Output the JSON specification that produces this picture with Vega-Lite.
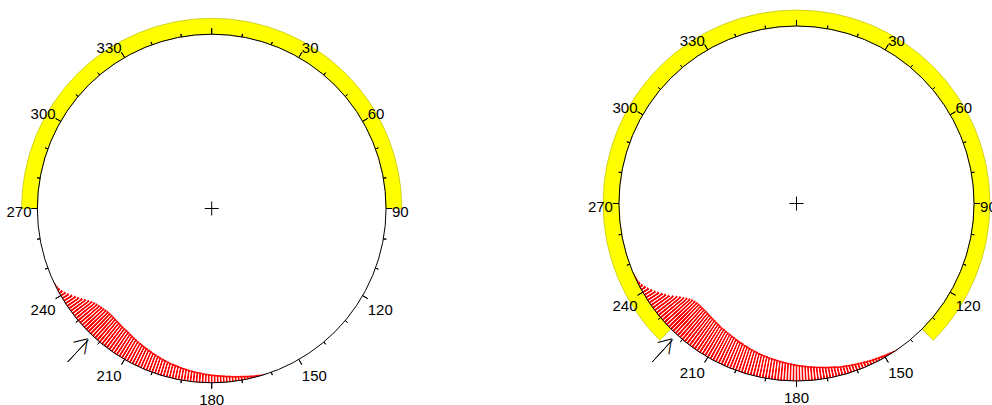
{
"$schema":"https://vega.github.io/schema/vega-lite/v6.json",
"width":992,"height":405,"autosize":"none","padding":0,
"config":{"view":{"stroke":null},"font":"Liberation Sans"},
"datasets":{
"bandL":[{"a0":-90,"a1":90,"r0":1,"r1":1.091}],
"bandR":[{"a0":-135,"a1":135,"r0":1,"r1":1.09}],
"majorTicks":[{"a":0},{"a":30},{"a":60},{"a":90},{"a":120},{"a":150},{"a":180},{"a":210},{"a":240},{"a":270},{"a":300},{"a":330}],
"minorTicks":[{"a":10},{"a":20},{"a":40},{"a":50},{"a":70},{"a":80},{"a":100},{"a":110},{"a":130},{"a":140},{"a":160},{"a":170},{"a":190},{"a":200},{"a":220},{"a":230},{"a":250},{"a":260},{"a":280},{"a":290},{"a":310},{"a":320},{"a":340},{"a":350}],
"labels":[{"a":30,"t":"30"},{"a":60,"t":"60"},{"a":90,"t":"90"},{"a":120,"t":"120"},{"a":150,"t":"150"},{"a":180,"t":"180"},{"a":210,"t":"210"},{"a":240,"t":"240"},{"a":270,"t":"270"},{"a":300,"t":"300"},{"a":330,"t":"330"}],
"arrowL":[{"a":223.2,"r0":1.034,"r1":1.207}],
"arrowR":[{"a":222.3,"r0":1.038,"r1":1.208}],
"headL1":[{"a":224.46,"r":1.0706}],
"headL2":[{"a":221.94,"r":1.0706}],
"headR1":[{"a":223.53,"r":1.074}],
"headR2":[{"a":221.07,"r":1.074}],
"hatchL":[{"a":161,"r":0.999},{"a":162,"r":0.997},{"a":163,"r":0.995},{"a":164,"r":0.992},{"a":165,"r":0.989},{"a":166,"r":0.986},{"a":167,"r":0.984},{"a":168,"r":0.981},{"a":169,"r":0.978},{"a":170,"r":0.975},{"a":171,"r":0.973},{"a":172,"r":0.970},{"a":173,"r":0.968},{"a":174,"r":0.965},{"a":175,"r":0.963},{"a":176,"r":0.960},{"a":177,"r":0.958},{"a":178,"r":0.956},{"a":179,"r":0.954},{"a":180,"r":0.952},{"a":181,"r":0.950},{"a":182,"r":0.948},{"a":183,"r":0.946},{"a":184,"r":0.943},{"a":185,"r":0.941},{"a":186,"r":0.939},{"a":187,"r":0.936},{"a":188,"r":0.934},{"a":189,"r":0.931},{"a":190,"r":0.929},{"a":191,"r":0.926},{"a":192,"r":0.923},{"a":193,"r":0.921},{"a":194,"r":0.918},{"a":195,"r":0.915},{"a":196,"r":0.912},{"a":197,"r":0.909},{"a":198,"r":0.906},{"a":199,"r":0.903},{"a":200,"r":0.899},{"a":201,"r":0.896},{"a":202,"r":0.893},{"a":203,"r":0.889},{"a":204,"r":0.886},{"a":205,"r":0.883},{"a":206,"r":0.880},{"a":207,"r":0.876},{"a":208,"r":0.873},{"a":209,"r":0.870},{"a":210,"r":0.866},{"a":211,"r":0.863},{"a":212,"r":0.860},{"a":213,"r":0.857},{"a":214,"r":0.854},{"a":215,"r":0.851},{"a":216,"r":0.849},{"a":217,"r":0.847},{"a":218,"r":0.845},{"a":219,"r":0.843},{"a":220,"r":0.841},{"a":221,"r":0.839},{"a":222,"r":0.838},{"a":223,"r":0.837},{"a":224,"r":0.837},{"a":225,"r":0.838},{"a":226,"r":0.840},{"a":227,"r":0.843},{"a":228,"r":0.847},{"a":229,"r":0.851},{"a":230,"r":0.856},{"a":231,"r":0.862},{"a":232,"r":0.870},{"a":233,"r":0.880},{"a":234,"r":0.892},{"a":235,"r":0.905},{"a":236,"r":0.918},{"a":237,"r":0.930},{"a":238,"r":0.943},{"a":239,"r":0.956},{"a":240,"r":0.968},{"a":241,"r":0.978},{"a":242,"r":0.986},{"a":243,"r":0.991},{"a":244,"r":0.995},{"a":245,"r":0.998},{"a":246,"r":1.000}],
"hatchR":[{"a":144,"r":1.000},{"a":145,"r":0.998},{"a":146,"r":0.996},{"a":147,"r":0.993},{"a":148,"r":0.991},{"a":149,"r":0.988},{"a":150,"r":0.986},{"a":151,"r":0.983},{"a":152,"r":0.981},{"a":153,"r":0.978},{"a":154,"r":0.976},{"a":155,"r":0.973},{"a":156,"r":0.971},{"a":157,"r":0.968},{"a":158,"r":0.966},{"a":159,"r":0.963},{"a":160,"r":0.961},{"a":161,"r":0.958},{"a":162,"r":0.956},{"a":163,"r":0.953},{"a":164,"r":0.951},{"a":165,"r":0.948},{"a":166,"r":0.945},{"a":167,"r":0.942},{"a":168,"r":0.939},{"a":169,"r":0.937},{"a":170,"r":0.934},{"a":171,"r":0.931},{"a":172,"r":0.928},{"a":173,"r":0.926},{"a":174,"r":0.923},{"a":175,"r":0.920},{"a":176,"r":0.918},{"a":177,"r":0.915},{"a":178,"r":0.912},{"a":179,"r":0.910},{"a":180,"r":0.907},{"a":181,"r":0.904},{"a":182,"r":0.901},{"a":183,"r":0.899},{"a":184,"r":0.896},{"a":185,"r":0.893},{"a":186,"r":0.890},{"a":187,"r":0.887},{"a":188,"r":0.885},{"a":189,"r":0.882},{"a":190,"r":0.879},{"a":191,"r":0.876},{"a":192,"r":0.874},{"a":193,"r":0.871},{"a":194,"r":0.868},{"a":195,"r":0.864},{"a":196,"r":0.861},{"a":197,"r":0.858},{"a":198,"r":0.854},{"a":199,"r":0.851},{"a":200,"r":0.848},{"a":201,"r":0.844},{"a":202,"r":0.841},{"a":203,"r":0.838},{"a":204,"r":0.834},{"a":205,"r":0.831},{"a":206,"r":0.828},{"a":207,"r":0.825},{"a":208,"r":0.822},{"a":209,"r":0.819},{"a":210,"r":0.816},{"a":211,"r":0.814},{"a":212,"r":0.811},{"a":213,"r":0.808},{"a":214,"r":0.805},{"a":215,"r":0.802},{"a":216,"r":0.800},{"a":217,"r":0.797},{"a":218,"r":0.795},{"a":219,"r":0.793},{"a":220,"r":0.791},{"a":221,"r":0.790},{"a":222,"r":0.789},{"a":223,"r":0.789},{"a":224,"r":0.789},{"a":225,"r":0.790},{"a":226,"r":0.793},{"a":227,"r":0.798},{"a":228,"r":0.806},{"a":229,"r":0.815},{"a":230,"r":0.826},{"a":231,"r":0.838},{"a":232,"r":0.852},{"a":233,"r":0.868},{"a":234,"r":0.884},{"a":235,"r":0.897},{"a":236,"r":0.910},{"a":237,"r":0.923},{"a":238,"r":0.936},{"a":239,"r":0.949},{"a":240,"r":0.961},{"a":241,"r":0.971},{"a":242,"r":0.980},{"a":243,"r":0.988},{"a":244,"r":0.992},{"a":245,"r":0.994},{"a":246,"r":0.996},{"a":247,"r":0.998},{"a":248,"r":1.000}]
},
"resolve":{"scale":{"radius":"independent"}},
"layer":[
{"layer":[
 {"data":{"name":"bandL"},"mark":{"type":"arc","fill":"#ffff00","stroke":"#b4b400","strokeWidth":0.6},
  "encoding":{"x":{"datum":"L","type":"nominal","axis":null,"scale":{"type":"point","domain":["L","R"],"range":[211.7,796.5],"padding":0}},"y":{"datum":"L","type":"nominal","axis":null,"scale":{"type":"point","domain":["L","R"],"range":[208.5,203.5],"padding":0}},
   "theta":{"field":"a0","type":"quantitative","stack":null,"scale":{"type":"linear","domain":[0,360],"range":[0,6.283185307179586],"nice":false,"zero":false}},"theta2":{"field":"a1"},
   "radius":{"field":"r1","type":"quantitative","scale":{"type":"linear","domain":[0,1],"range":[0,174.3],"nice":false,"zero":false}},"radius2":{"field":"r0"}}},
 {"data":{"name":"hatchL"},"mark":{"type":"arc","fill":"#ff0000","thetaOffset":-0.0087,"theta2Offset":0.0096},
  "encoding":{"x":{"datum":"L","type":"nominal","axis":null},"y":{"datum":"L","type":"nominal","axis":null},
   "theta":{"field":"a","type":"quantitative","stack":null},"theta2":{"field":"a"},
   "radius":{"field":"r","type":"quantitative"},"radius2":{"datum":1}}},
 {"data":{"name":"hatchL"},"transform":[{"filter":"datum.r < 0.99"}],"mark":{"type":"arc","filled":false,"stroke":"#ffffff","strokeWidth":1,"thetaOffset":0.0087,"theta2Offset":0.0087,"radiusOffset":1.5,"radius2Offset":-0.5},
  "encoding":{"x":{"datum":"L","type":"nominal","axis":null},"y":{"datum":"L","type":"nominal","axis":null},
   "theta":{"field":"a","type":"quantitative","stack":null},"theta2":{"field":"a"},
   "radius":{"field":"r","type":"quantitative"},"radius2":{"datum":1}}},
 {"data":{"values":[{}]},"mark":{"type":"arc","filled":false,"stroke":"#000000","strokeWidth":1},
  "encoding":{"x":{"datum":"L","type":"nominal","axis":null},"y":{"datum":"L","type":"nominal","axis":null},
   "theta":{"datum":0,"type":"quantitative"},"theta2":{"datum":360},"radius":{"datum":1,"type":"quantitative"}}},
 {"data":{"name":"majorTicks"},"mark":{"type":"arc","filled":false,"stroke":"#000000","strokeWidth":1},
  "encoding":{"x":{"datum":"L","type":"nominal","axis":null},"y":{"datum":"L","type":"nominal","axis":null},
   "theta":{"field":"a","type":"quantitative","stack":null},"theta2":{"field":"a"},"radius":{"datum":1.034,"type":"quantitative"},"radius2":{"datum":1}}},
 {"data":{"name":"minorTicks"},"mark":{"type":"arc","filled":false,"stroke":"#000000","strokeWidth":1},
  "encoding":{"x":{"datum":"L","type":"nominal","axis":null},"y":{"datum":"L","type":"nominal","axis":null},
   "theta":{"field":"a","type":"quantitative","stack":null},"theta2":{"field":"a"},"radius":{"datum":1.017,"type":"quantitative"},"radius2":{"datum":1}}},
 {"data":{"name":"labels"},"mark":{"type":"text","font":"Liberation Sans","fontSize":15,"fill":"#000000",
   "align":{"expr":"datum.a % 180 === 0 ? 'center' : (datum.a < 180 ? 'left' : 'right')"},
   "baseline":{"expr":"datum.a === 90 || datum.a === 270 ? 'middle' : ((datum.a < 90 || datum.a > 270) ? 'alphabetic' : 'top')"},
   "dy":{"expr":"datum.a === 90 || datum.a === 270 ? 3 : ((datum.a < 90 || datum.a > 270) ? 1 : 4)"}},
  "encoding":{"x":{"datum":"L","type":"nominal","axis":null},"y":{"datum":"L","type":"nominal","axis":null},
   "theta":{"field":"a","type":"quantitative"},"radius":{"datum":1.034,"type":"quantitative"},"text":{"field":"t"}}},
 {"data":{"name":"arrowL"},"mark":{"type":"arc","filled":false,"stroke":"#000000","strokeWidth":1},
  "encoding":{"x":{"datum":"L","type":"nominal","axis":null},"y":{"datum":"L","type":"nominal","axis":null},
   "theta":{"field":"a","type":"quantitative","stack":null},"theta2":{"field":"a"},"radius":{"field":"r1","type":"quantitative"},"radius2":{"field":"r0"}}},
 {"data":{"name":"headL1"},"mark":{"type":"text","font":"Liberation Sans","fontSize":15,"fill":"#000000","align":"center","baseline":"middle","angle":166.2},
  "encoding":{"x":{"datum":"L","type":"nominal","axis":null},"y":{"datum":"L","type":"nominal","axis":null},
   "theta":{"field":"a","type":"quantitative"},"radius":{"field":"r","type":"quantitative"},"text":{"value":"—"}}},
 {"data":{"name":"headL2"},"mark":{"type":"text","font":"Liberation Sans","fontSize":15,"fill":"#000000","align":"center","baseline":"middle","angle":100.2},
  "encoding":{"x":{"datum":"L","type":"nominal","axis":null},"y":{"datum":"L","type":"nominal","axis":null},
   "theta":{"field":"a","type":"quantitative"},"radius":{"field":"r","type":"quantitative"},"text":{"value":"—"}}},
 {"data":{"values":[{}]},"mark":{"type":"point","shape":"M-1,0L1,0M0,-1L0,1","size":196,"filled":false,"stroke":"#000000","strokeWidth":1,"opacity":1},
  "encoding":{"x":{"datum":"L","type":"nominal","axis":null},"y":{"datum":"L","type":"nominal","axis":null}}}
]},
{"layer":[
 {"data":{"name":"bandR"},"mark":{"type":"arc","fill":"#ffff00","stroke":"#b4b400","strokeWidth":0.6},
  "encoding":{"x":{"datum":"R","type":"nominal","axis":null},"y":{"datum":"R","type":"nominal","axis":null},
   "theta":{"field":"a0","type":"quantitative","stack":null},"theta2":{"field":"a1"},
   "radius":{"field":"r1","type":"quantitative","scale":{"type":"linear","domain":[0,1],"range":[0,177.5],"nice":false,"zero":false}},"radius2":{"field":"r0"}}},
 {"data":{"name":"hatchR"},"mark":{"type":"arc","fill":"#ff0000","thetaOffset":-0.0087,"theta2Offset":0.0096},
  "encoding":{"x":{"datum":"R","type":"nominal","axis":null},"y":{"datum":"R","type":"nominal","axis":null},
   "theta":{"field":"a","type":"quantitative","stack":null},"theta2":{"field":"a"},
   "radius":{"field":"r","type":"quantitative"},"radius2":{"datum":1}}},
 {"data":{"name":"hatchR"},"transform":[{"filter":"datum.r < 0.99"}],"mark":{"type":"arc","filled":false,"stroke":"#ffffff","strokeWidth":1,"thetaOffset":0.0087,"theta2Offset":0.0087,"radiusOffset":1.5,"radius2Offset":-0.5},
  "encoding":{"x":{"datum":"R","type":"nominal","axis":null},"y":{"datum":"R","type":"nominal","axis":null},
   "theta":{"field":"a","type":"quantitative","stack":null},"theta2":{"field":"a"},
   "radius":{"field":"r","type":"quantitative"},"radius2":{"datum":1}}},
 {"data":{"values":[{}]},"mark":{"type":"arc","filled":false,"stroke":"#000000","strokeWidth":1},
  "encoding":{"x":{"datum":"R","type":"nominal","axis":null},"y":{"datum":"R","type":"nominal","axis":null},
   "theta":{"datum":0,"type":"quantitative"},"theta2":{"datum":360},"radius":{"datum":1,"type":"quantitative"}}},
 {"data":{"name":"majorTicks"},"mark":{"type":"arc","filled":false,"stroke":"#000000","strokeWidth":1},
  "encoding":{"x":{"datum":"R","type":"nominal","axis":null},"y":{"datum":"R","type":"nominal","axis":null},
   "theta":{"field":"a","type":"quantitative","stack":null},"theta2":{"field":"a"},"radius":{"datum":1.034,"type":"quantitative"},"radius2":{"datum":1}}},
 {"data":{"name":"minorTicks"},"mark":{"type":"arc","filled":false,"stroke":"#000000","strokeWidth":1},
  "encoding":{"x":{"datum":"R","type":"nominal","axis":null},"y":{"datum":"R","type":"nominal","axis":null},
   "theta":{"field":"a","type":"quantitative","stack":null},"theta2":{"field":"a"},"radius":{"datum":1.017,"type":"quantitative"},"radius2":{"datum":1}}},
 {"data":{"name":"labels"},"mark":{"type":"text","font":"Liberation Sans","fontSize":15,"fill":"#000000",
   "align":{"expr":"datum.a % 180 === 0 ? 'center' : (datum.a < 180 ? 'left' : 'right')"},
   "baseline":{"expr":"datum.a === 90 || datum.a === 270 ? 'middle' : ((datum.a < 90 || datum.a > 270) ? 'alphabetic' : 'top')"},
   "dy":{"expr":"datum.a === 90 || datum.a === 270 ? 3 : ((datum.a < 90 || datum.a > 270) ? 1 : 4)"}},
  "encoding":{"x":{"datum":"R","type":"nominal","axis":null},"y":{"datum":"R","type":"nominal","axis":null},
   "theta":{"field":"a","type":"quantitative"},"radius":{"datum":1.034,"type":"quantitative"},"text":{"field":"t"}}},
 {"data":{"name":"arrowR"},"mark":{"type":"arc","filled":false,"stroke":"#000000","strokeWidth":1},
  "encoding":{"x":{"datum":"R","type":"nominal","axis":null},"y":{"datum":"R","type":"nominal","axis":null},
   "theta":{"field":"a","type":"quantitative","stack":null},"theta2":{"field":"a"},"radius":{"field":"r1","type":"quantitative"},"radius2":{"field":"r0"}}},
 {"data":{"name":"headR1"},"mark":{"type":"text","font":"Liberation Sans","fontSize":15,"fill":"#000000","align":"center","baseline":"middle","angle":165.3},
  "encoding":{"x":{"datum":"R","type":"nominal","axis":null},"y":{"datum":"R","type":"nominal","axis":null},
   "theta":{"field":"a","type":"quantitative"},"radius":{"field":"r","type":"quantitative"},"text":{"value":"—"}}},
 {"data":{"name":"headR2"},"mark":{"type":"text","font":"Liberation Sans","fontSize":15,"fill":"#000000","align":"center","baseline":"middle","angle":99.3},
  "encoding":{"x":{"datum":"R","type":"nominal","axis":null},"y":{"datum":"R","type":"nominal","axis":null},
   "theta":{"field":"a","type":"quantitative"},"radius":{"field":"r","type":"quantitative"},"text":{"value":"—"}}},
 {"data":{"values":[{}]},"mark":{"type":"point","shape":"M-1,0L1,0M0,-1L0,1","size":196,"filled":false,"stroke":"#000000","strokeWidth":1,"opacity":1},
  "encoding":{"x":{"datum":"R","type":"nominal","axis":null},"y":{"datum":"R","type":"nominal","axis":null}}}
]}
]
}
